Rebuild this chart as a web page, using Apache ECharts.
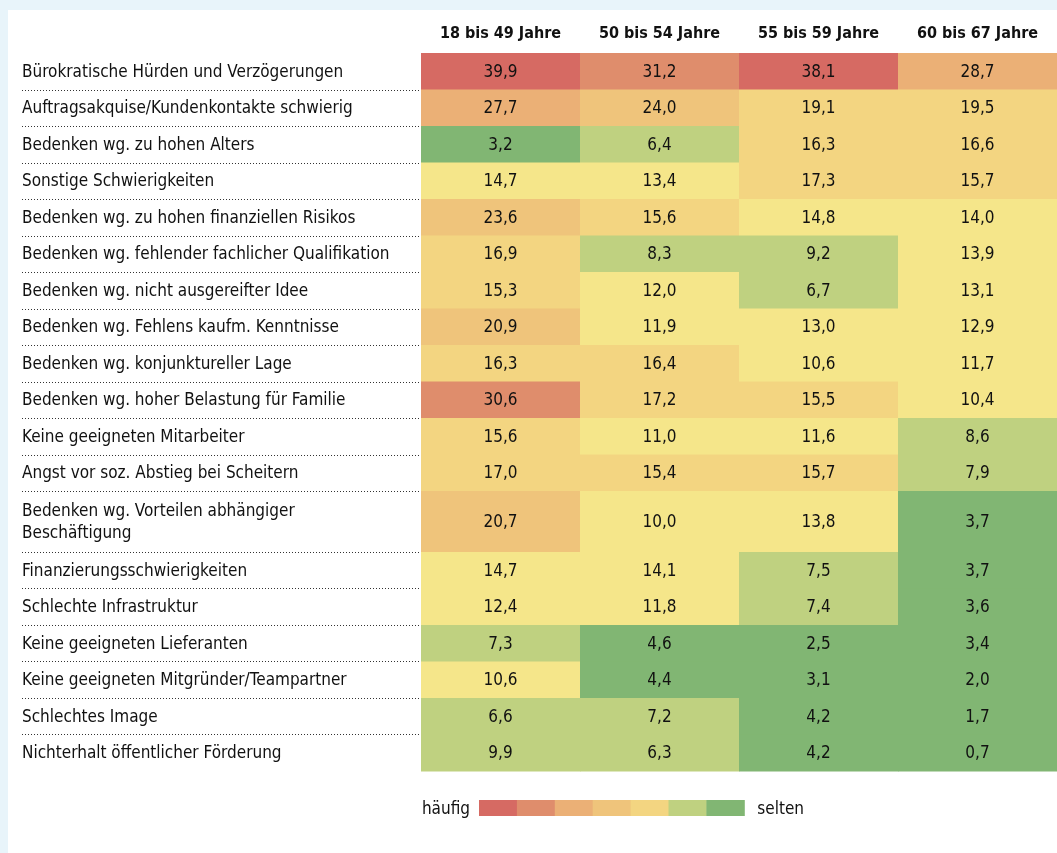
<!DOCTYPE html>
<html><head><meta charset="utf-8">
<script src="https://cdn.jsdelivr.net/npm/echarts@6/dist/echarts.min.js"></script>
<style>
html,body{margin:0;padding:0;background:#e8f4fa;width:1057px;height:853px;overflow:hidden}
#c{position:absolute;left:8px;top:10px;width:1049px;height:843px;background:#fff}
</style></head><body><div id="c"></div>
<script>
// ---- data ----
const ageGroups = ['18 bis 49 Jahre', '50 bis 54 Jahre', '55 bis 59 Jahre', '60 bis 67 Jahre'];
const reasons = [
  'Bürokratische Hürden und Verzögerungen',
  'Auftragsakquise/Kundenkontakte schwierig',
  'Bedenken wg. zu hohen Alters',
  'Sonstige Schwierigkeiten',
  'Bedenken wg. zu hohen finanziellen Risikos',
  'Bedenken wg. fehlender fachlicher Qualifikation',
  'Bedenken wg. nicht ausgereifter Idee',
  'Bedenken wg. Fehlens kaufm. Kenntnisse',
  'Bedenken wg. konjunktureller Lage',
  'Bedenken wg. hoher Belastung für Familie',
  'Keine geeigneten Mitarbeiter',
  'Angst vor soz. Abstieg bei Scheitern',
  'Bedenken wg. Vorteilen abhängiger\nBeschäftigung',
  'Finanzierungsschwierigkeiten',
  'Schlechte Infrastruktur',
  'Keine geeigneten Lieferanten',
  'Keine geeigneten Mitgründer/Teampartner',
  'Schlechtes Image',
  'Nichterhalt öffentlicher Förderung'
];
const v18to49 = [39.9, 27.7, 3.2, 14.7, 23.6, 16.9, 15.3, 20.9, 16.3, 30.6, 15.6, 17.0, 20.7, 14.7, 12.4, 7.3, 10.6, 6.6, 9.9];
const v50to54 = [31.2, 24.0, 6.4, 13.4, 15.6, 8.3, 12.0, 11.9, 16.4, 17.2, 11.0, 15.4, 10.0, 14.1, 11.8, 4.6, 4.4, 7.2, 6.3];
const v55to59 = [38.1, 19.1, 16.3, 17.3, 14.8, 9.2, 6.7, 13.0, 10.6, 15.5, 11.6, 15.7, 13.8, 7.5, 7.4, 2.5, 3.1, 4.2, 4.2];
const v60to67 = [28.7, 19.5, 16.6, 15.7, 14.0, 13.9, 13.1, 12.9, 11.7, 10.4, 8.6, 7.9, 3.7, 3.7, 3.6, 3.4, 2.0, 1.7, 0.7];
const legendLeftText = 'häufig';
const legendRightText = 'selten';

// ---- styles ----
const FONT = "'DejaVu Sans Condensed', 'DejaVu Sans', sans-serif";
const TEXT = '#111';
const pieces = [
  {gte: 35, color: '#d66a63'},
  {gte: 30, lt: 35, color: '#df8d6c'},
  {gte: 25, lt: 30, color: '#ebb076'},
  {gte: 20, lt: 25, color: '#efc47b'},
  {gte: 15, lt: 20, color: '#f3d581'},
  {gte: 10, lt: 15, color: '#f5e68a'},
  {gte: 5, lt: 10, color: '#bfd180'},
  {lt: 5, color: '#81b673'}
];
const legendColors = ['#d66a63', '#df8d6c', '#ebb076', '#efc47b', '#f3d581', '#bfd180', '#81b673'];

const cols = [v18to49, v50to54, v55to59, v60to67];
const cells = [];
cols.forEach((arr, c) => arr.forEach((v, r) => cells.push([c, r, v])));

// row extents: two-line labels get a taller row
const rowWeight = reasons.map(r => r.includes('\n') ? 1.67 : 1);
const rowStart = [];
let acc = 0;
rowWeight.forEach((w, i) => { rowStart.push(acc); acc += w; });
const totalUnits = acc;

const fmt = v => v.toFixed(1).replace('.', ',');

function renderCell(params, api) {
  const col = api.value(0), row = api.value(1), val = api.value(2);
  const xc = api.coord([col, 0])[0];
  const w = api.size([1, 0])[0];
  const y0 = api.coord([col, rowStart[row]])[1];
  const y1 = api.coord([col, rowStart[row] + rowWeight[row]])[1];
  return {
    type: 'group', children: [
      {type: 'rect', shape: {x: xc - w / 2, y: y0, width: w + 0.5, height: y1 - y0 + 0.5},
       style: {fill: api.visual('color')}},
      {type: 'text', style: {text: fmt(val), x: xc, y: (y0 + y1) / 2 + 1, align: 'center', verticalAlign: 'middle',
        fontSize: 17, fontFamily: FONT, fill: TEXT}}
    ]
  };
}

function renderLabel(params, api) {
  const cs = params.coordSys;
  const i = api.value(1);
  const y0 = api.coord([0, rowStart[i]])[1];
  const y1 = api.coord([0, rowStart[i] + rowWeight[i]])[1];
  const left = cs.x - 399;
  const children = [
    {type: 'text', style: {text: reasons[i], x: left, y: (y0 + y1) / 2 + 1, align: 'left', verticalAlign: 'middle',
      fontSize: 17, fontFamily: FONT, fill: TEXT, lineHeight: 22}}
  ];
  if (i < reasons.length - 1) {
    const yl = Math.round(y1) + 0.5;
    children.push({type: 'line', shape: {x1: left, y1: yl, x2: cs.x - 1, y2: yl},
      style: {stroke: '#333', lineWidth: 1, lineDash: [1, 2]}});
  }
  return {type: 'group', children};
}

const chart = echarts.init(document.getElementById('c'), null, {renderer: 'canvas'});

const legendGraphic = [];
const lgX = 471, lgY = 790, lgW = 37.9, lgH = 16;
legendGraphic.push({type: 'text', right: 1049 - (lgX - 9), top: lgY + 1,
  style: {text: legendLeftText, fontSize: 17, fontFamily: FONT, fill: TEXT}});
legendColors.forEach((c, i) => legendGraphic.push({type: 'rect', left: lgX + i * lgW, top: lgY,
  shape: {width: lgW + 0.5, height: lgH}, style: {fill: c}}));
legendGraphic.push({type: 'text', left: lgX + 7 * lgW + 13, top: lgY + 1,
  style: {text: legendRightText, fontSize: 17, fontFamily: FONT, fill: TEXT}});

chart.setOption({
  animation: false,
  backgroundColor: '#fff',
  grid: {left: 413, right: 0, top: 43, bottom: 82},
  xAxis: {
    type: 'category', data: ageGroups, position: 'top',
    axisLine: {show: false}, axisTick: {show: false}, splitLine: {show: false},
    axisLabel: {fontSize: 16, fontWeight: 'bold', fontFamily: FONT, color: TEXT, margin: 11}
  },
  yAxis: {type: 'value', min: 0, max: totalUnits, inverse: true, show: false},
  visualMap: {type: 'piecewise', show: false, dimension: 2, seriesIndex: 0, pieces},
  graphic: legendGraphic,
  series: [
    {type: 'custom', renderItem: renderCell, data: cells, encode: {x: 0, y: 1}, clip: false},
    {type: 'custom', renderItem: renderLabel, data: reasons.map((r, i) => [0, i]), encode: {x: 0, y: 1}, clip: false}
  ]
});
</script></body></html>
